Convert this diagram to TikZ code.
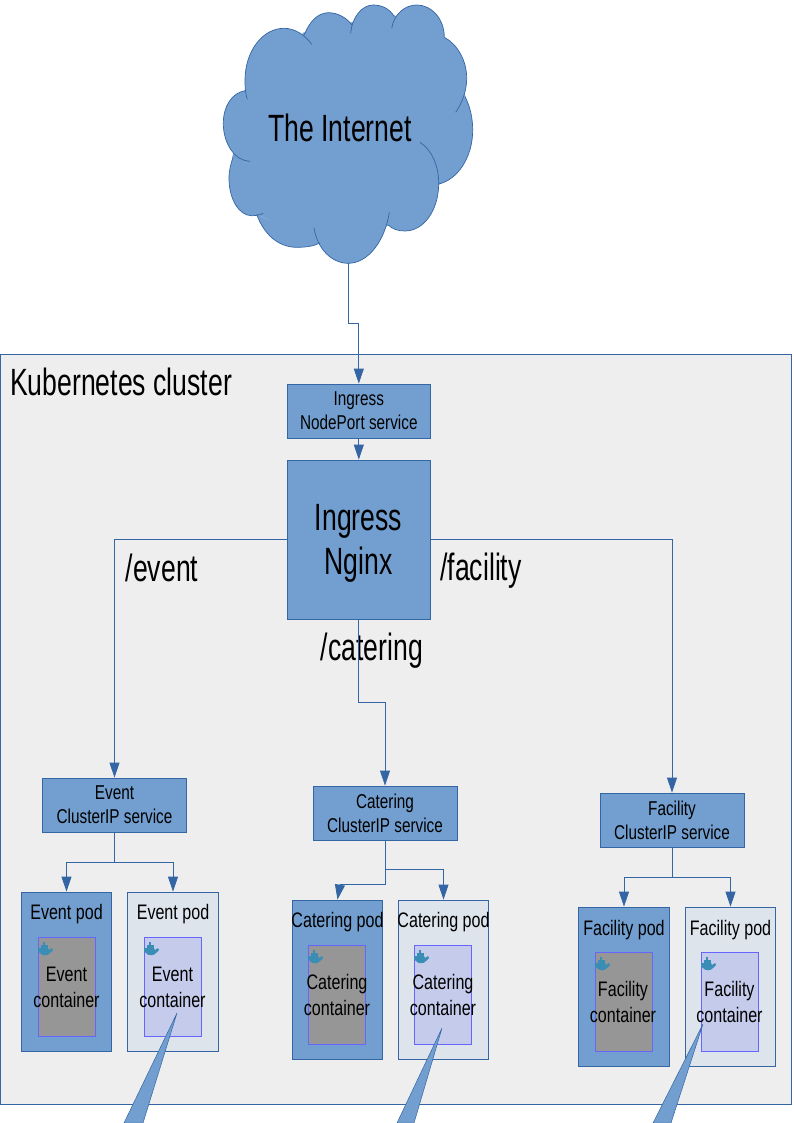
\documentclass[tikz,border=0pt]{standalone}
\usepackage{fontspec}
\setmainfont{Liberation Sans}[FakeStretch=0.766]
\newfontfamily\bigfont{Liberation Sans}[FakeStretch=0.7]
\usetikzlibrary{arrows.meta}
\definecolor{boxblue}{HTML}{729FCF}
\definecolor{edgeblue}{HTML}{3465A4}
\definecolor{clusterbg}{HTML}{EEEEEE}
\definecolor{lightpod}{HTML}{DDE4EC}
\definecolor{lightbox}{HTML}{C5CCEB}
\definecolor{greybox}{HTML}{969696}
\definecolor{boxedge}{HTML}{6666FF}
\definecolor{whaleblue}{HTML}{3A8DB5}
\tikzset{
  box/.style={draw=edgeblue,fill=boxblue,line width=0.8pt,inner sep=0pt,align=center,font=\fontsize{20}{24}\selectfont},
  podbox/.style={box,minimum width=90.5pt,minimum height=159pt},
  lightpodbox/.style={podbox,fill=lightpod},
  conbox/.style={draw=boxedge,fill=greybox,line width=0.7pt,minimum width=57.5pt,minimum height=99pt,inner sep=0pt},
  lightconbox/.style={conbox,fill=lightbox},
  svcbox/.style={box,minimum width=144pt,minimum height=54pt},
  bigtext/.style={font=\bigfont\fontsize{38}{44}\selectfont,align=center,inner sep=0pt},
  podtext/.style={font=\fontsize{21}{26}\selectfont,align=center,inner sep=0pt},
  conn/.style={draw=edgeblue,line width=0.8pt,-{Triangle[length=15pt,width=10pt,fill=edgeblue]}},
  plainconn/.style={draw=edgeblue,line width=0.8pt},
  callout/.style={draw=edgeblue,fill=boxblue,line width=0.5pt},
  cloudfill/.style={fill=boxblue},
  cloudline/.style={draw=edgeblue,line width=0.7pt},
  pics/whale/.style={code={
    \fill[whaleblue] (-7,-3) -- (3,-3) -- (4,-1) -- (7,-3) -- (8,-1) -- (5,2) .. controls (3,5) and (-3,5) .. (-5,2) -- (-7,0) -- cycle;
    \fill[whaleblue] (-4,-3) rectangle (3,-6);
    \fill[whaleblue] (-2,-6) rectangle (0,-9);
  }}
}
\begin{document}
\begin{tikzpicture}[x=1pt,y=-1pt]
\useasboundingbox (0,0) rectangle (794,1123);

% cloud
\filldraw[boxblue,line width=1.2pt,line join=round] (304,33) -- (351,23) -- (392,15) -- (444,37) -- (465,97) -- (439,184) -- (389,225) -- (318,243) -- (258,214) -- (233,157) -- (245,91) -- cycle;
\foreach \mode in {cloudfill,cloudline} {
  \path[\mode] (247.3,99.3) .. controls (245,92) and (245,86) .. (245,80) .. controls (245,52) and (262,28.3) .. (284,28.3) .. controls (295,28.3) and (305,35) .. (311.7,44.3);
  \path[\mode] (304.3,35) .. controls (309,22) and (318,12.7) .. (328.3,12.7) .. controls (338,12.7) and (347,18) .. (351.7,25);
  \path[\mode] (350.7,33.3) .. controls (352,17) and (362,5) .. (373.3,5) .. controls (382,5) and (390,9) .. (394.3,16.7);
  \path[\mode] (391.7,28.3) .. controls (394,14) and (405,5) .. (416.7,5) .. controls (432,5) and (444,19) .. (444.3,36.7);
  \path[\mode] (444.3,37.3) .. controls (457,44) and (466.7,60) .. (466.7,78.3) .. controls (466.7,91) and (462,103) .. (455.7,112.3);
  \path[\mode] (465,96.7) .. controls (470,106) and (472.7,118) .. (472.7,130) .. controls (472.7,158) and (457,180) .. (438.7,184);
  \path[\mode] (420,142.3) .. controls (432,150) and (438.7,166) .. (438.7,183.3) .. controls (438.7,210) and (424,231) .. (405,231) .. controls (398,231) and (392,229) .. (388.3,225);
  \path[\mode] (389.3,212.3) .. controls (385,241) and (368,263.3) .. (348.3,263.3) .. controls (331,263.3) and (317,248) .. (314,227.7);
  \path[\mode] (320,243) .. controls (313,246.5) and (305,247.3) .. (296.7,247.3) .. controls (279,247.3) and (264,235) .. (256.7,214.3);
  \path[\mode] (263.3,213.3) .. controls (260,215) and (256,215.7) .. (251.7,215.7) .. controls (239,215.7) and (229,199) .. (229,178.3) .. controls (229,170) and (231,163) .. (233.3,156.7);
  \path[\mode] (250,161.3) .. controls (235,161) and (223.3,144) .. (223.3,123.3) .. controls (223.3,106) and (232,93) .. (245,90.7);
}
\node[bigtext] (internet) at (340,128) {The Internet};
\coordinate (cloudbottom) at (348.5,263);

% cluster
\draw[edgeblue,fill=clusterbg,line width=0.8pt] (0.5,354.5) rectangle (791.5,1104);
\node[bigtext,anchor=west] (clusterlabel) at (10,382) {Kubernetes cluster};

\node[svcbox,minimum width=143.5pt] (ingsvc) at (358.8,411) {Ingress\\NodePort service};
\node[box,minimum width=143.5pt,minimum height=159.4pt] (nginx) at (358.8,539.7) {};
\node[bigtext] (nginxtext) at (358.5,543.5) {Ingress\\Nginx};

\node[svcbox] (eventsvc) at (114.5,805) {Event\\ClusterIP service};
\node[svcbox] (cateringsvc) at (385,813) {Catering\\ClusterIP service};
\node[svcbox] (facilitysvc) at (672,820) {Facility\\ClusterIP service};

\node[bigtext] (eventlabel) at (162,568) {/event};
\node[bigtext] (cateringlabel) at (372,651) {/catering};
\node[bigtext] (facilitylabel) at (481,571) {/facility};

% pods
\node[podbox] (eventpoda) at (66.5,971.5) {};
\node[lightpodbox] (eventpodb) at (173,971.5) {};
\node[podbox] (cateringpoda) at (337.5,979.5) {};
\node[lightpodbox] (cateringpodb) at (443.5,979.5) {};
\node[podbox] (facilitypoda) at (624,986.5) {};
\node[lightpodbox] (facilitypodb) at (730.5,986.5) {};

\node[podtext] (eventtexta) at (66.5,914) {Event pod};
\node[podtext] (eventtextb) at (173,914) {Event pod};
\node[podtext] (cateringtexta) at (337.5,922) {Catering pod};
\node[podtext] (cateringtextb) at (443.5,922) {Catering pod};
\node[podtext] (facilitytexta) at (624,930) {Facility pod};
\node[podtext] (facilitytextb) at (730.5,930) {Facility pod};

% containers
\node[conbox] (eventcona) at (66.7,986.5) {};
\node[lightconbox] (eventconb) at (172.7,986.5) {};
\node[conbox] (cateringcona) at (337,994.5) {};
\node[lightconbox] (cateringconb) at (443,994.5) {};
\node[conbox] (facilitycona) at (623.7,1002) {};
\node[lightconbox] (facilityconb) at (729.7,1002) {};

\pic at (45,951) {whale};
\pic at (151,951) {whale};
\pic at (315,959) {whale};
\pic at (421,959) {whale};
\pic at (602,966) {whale};
\pic at (708,966) {whale};

\node[podtext] (eventlabela) at (66.5,987) {Event\\container};
\node[podtext] (eventlabelb) at (172.5,987) {Event\\container};
\node[podtext] (cateringlabela) at (337,995) {Catering\\container};
\node[podtext] (cateringlabelb) at (443,995) {Catering\\container};
\node[podtext] (facilitylabela) at (623,1002) {Facility\\container};
\node[podtext] (facilitylabelb) at (729.5,1002) {Facility\\container};

% connectors
\draw[conn] (cloudbottom) -- ++(0,60) -| (ingsvc.north);
\draw[conn] (ingsvc) -- (nginx);
\draw[conn] (nginx.west) -| (eventsvc.north);
\draw[conn] (nginx.east) -| (facilitysvc.north);
\draw[conn] (nginx.south) |- ++(26.2,82.5) -- (cateringsvc.north);
\draw[conn] (eventsvc.south) |- ++(-48,30) -- (eventpoda.north);
\draw[conn] (eventsvc.south) |- ++(58.5,30) -- (eventpodb.north);
\draw[plainconn] (cateringsvc.south) -- ++(0,44) -- ++(-45,0) coordinate (cateringbend);
\draw[conn] (cateringbend) -- (cateringpoda.north);
\draw[conn] (cateringsvc.south) |- ++(58.5,29) -- (cateringpodb.north);
\draw[conn] (facilitysvc.south) |- ++(-48,30) -- (facilitypoda.north);
\draw[conn] (facilitysvc.south) |- ++(58.5,30) -- (facilitypodb.north);

% callouts
\draw[callout] (177,1013) -- (124,1123) -- (143,1123) -- cycle;
\draw[callout] (442,1028) -- (397,1123) -- (414,1123) -- cycle;
\draw[callout] (703,1024) -- (653,1123) -- (671,1123) -- cycle;
\end{tikzpicture}
\end{document}
